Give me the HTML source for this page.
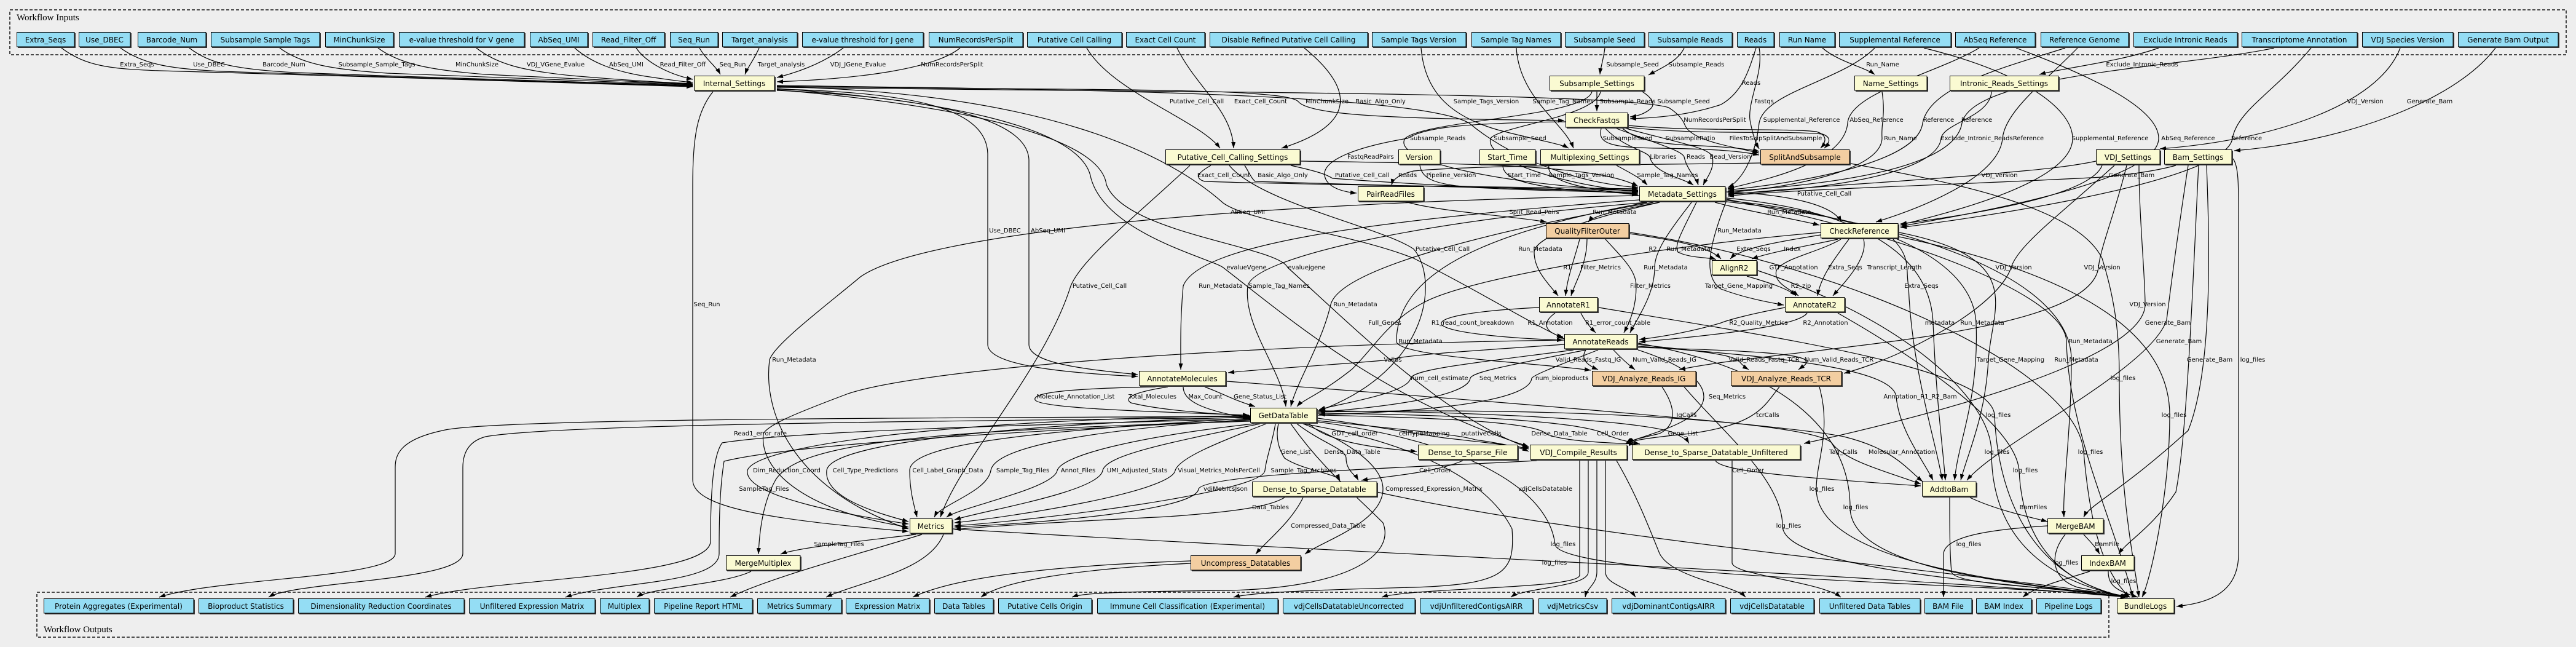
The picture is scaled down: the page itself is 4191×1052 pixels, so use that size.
<!DOCTYPE html>
<html><head><meta charset="utf-8"><style>
html,body{margin:0;padding:0;background:#eeeeee;}
svg{display:block;}
svg text{font-family:"DejaVu Sans","Liberation Sans",sans-serif;fill:#000;}
.nt{font-size:12px;text-anchor:middle;}
.el{font-size:10px;text-anchor:middle;}
.cl{font-family:"Liberation Serif","DejaVu Serif",serif !important;font-size:15px;}
.s{fill:#3a3a3a;}
.i{fill:#94ddf4;stroke:#000;stroke-width:1;}
.y{fill:#fafad2;stroke:#000;stroke-width:1;}
.o{fill:#f3cea1;stroke:#000;stroke-width:1;}
</style></head><body>
<svg width="4191" height="1052" viewBox="0 0 4191 1052" xmlns="http://www.w3.org/2000/svg">
<defs><marker id="ah" viewBox="0 0 10 7" refX="10" refY="3.5" markerWidth="10" markerHeight="7" markerUnits="userSpaceOnUse" orient="auto"><path d="M0,0L10,3.5L0,7z" fill="#000"/></marker></defs>
<rect x="0" y="0" width="4191" height="1052" fill="#eeeeee"/>
<rect x="16" y="16" width="4159" height="73" fill="none" stroke="#333" stroke-width="1.8" stroke-dasharray="5,3"/>
<text class="cl" x="27" y="33">Workflow Inputs</text>
<rect x="60" y="963" width="3371" height="73" fill="none" stroke="#333" stroke-width="1.8" stroke-dasharray="5,3"/>
<text class="cl" x="71" y="1028">Workflow Outputs</text>

<g fill="none" stroke="#000" stroke-width="1.2" marker-end="url(#ah)">
<path d="M100,78 C140,108 180,112 260,115 C520,122 900,134 1127,141"/>
<path d="M196,78 C232,104 275,112 360,116 C600,124 920,134 1127,140"/>
<path d="M308,78 C342,104 385,113 480,118 C700,126 950,134 1127,139"/>
<path d="M455,78 C490,104 540,113 630,119 C820,127 1000,134 1127,138"/>
<path d="M615,78 C650,104 700,114 790,121 C920,128 1050,134 1127,137"/>
<path d="M775,78 C808,104 850,115 930,123 C1010,130 1080,134 1127,136"/>
<path d="M935,78 C962,102 1000,116 1050,124 C1090,130 1112,133 1127,134"/>
<path d="M1035,78 C1050,100 1085,120 1127,129"/>
<path d="M1138,78 C1148,96 1165,108 1172,121"/>
<path d="M1235,78 C1228,95 1216,110 1212,121"/>
<path d="M1372,78 C1340,102 1300,117 1264,126"/>
<path d="M1562,78 C1520,112 1400,128 1264,133"/>
<path d="M1768,78 C1810,150 1950,195 1985,241"/>
<path d="M1915,78 C1945,140 2005,180 2007,241"/>
<path d="M2122,78 C2210,150 2200,205 2085,241"/>
<path d="M2312,78 C2318,150 2360,190 2440,212 C2510,230 2540,234 2552,241"/>
<path d="M2467,78 C2472,160 2545,200 2560,241"/>
<path d="M2611,78 C2609,95 2604,110 2603,121"/>
<path d="M2740,78 C2730,100 2700,112 2682,122"/>
<path d="M2857,78 C2845,115 2835,150 2800,170 C2740,190 2680,192 2652,193"/>
<path d="M2862,78 C2870,120 2840,170 2848,200 C2852,220 2856,232 2862,242"/>
<path d="M2965,78 C2990,100 3035,110 3050,121"/>
<path d="M3512,78 C3450,100 3360,110 3318,121"/>
<path d="M3905,78 C3870,170 3700,228 3514,242"/>
<path d="M4060,78 C3990,170 3800,232 3635,245"/>
<path d="M3050,78 C3000,130 2870,150 2862,200 C2855,262 2830,296 2811,305"/>
<path d="M3220,78 C3150,120 3010,150 3006,200 C3000,270 2850,296 2811,307"/>
<path d="M3360,78 C3260,110 3140,140 3128,200 C3120,270 2900,300 2811,309"/>
<path d="M3700,78 C3550,110 3210,120 3192,200 C3180,280 2950,302 2811,311"/>
<path d="M3062,149 C3068,190 3060,200 3062,225 C3060,280 2900,306 2811,313"/>
<path d="M3240,149 C3238,190 3162,200 3158,225 C3152,285 2950,310 2811,315"/>
<path d="M3380,78 C3330,130 3262,180 3258,225 C3252,290 3120,340 3052,361"/>
<path d="M3130,78 C3300,120 3372,180 3372,225 C3372,300 3150,350 3092,366"/>
<path d="M3280,78 C3420,130 3512,180 3512,225 C3512,300 3160,355 3092,368"/>
<path d="M3760,78 C3700,150 3640,180 3632,225 C3622,300 3170,360 3092,370"/>
<path d="M3410,262 C3350,275 3260,280 3215,285 C3100,295 2900,306 2811,317"/>
<path d="M3540,269 C3500,280 3450,285 3420,288 C3200,300 2900,308 2811,319"/>
<path d="M3420,269 C3400,320 3200,350 3092,364"/>
<path d="M1264,140 C1700,148 2090,140 2112,165 C2132,190 2300,193 2545,196"/>
<path d="M2598,149 C2598,160 2598,170 2598,181"/>
<path d="M2672,149 C2692,162 2692,172 2684,178 C2674,186 2662,189 2652,190"/>
<path d="M1264,142 C1900,150 2640,150 2715,175 C2732,186 2738,195 2742,205 C2755,232 2840,242 2862,249"/>
<path d="M2605,209 C2598,235 2625,240 2700,241 C2780,242 2830,245 2862,252"/>
<path d="M2640,209 C2660,226 2692,233 2745,236 C2815,239 2848,243 2862,246"/>
<path d="M2650,204 C2750,214 2900,208 2955,214 C2975,220 2970,232 2962,241"/>
<path d="M2650,207 C2760,220 2910,212 2965,218 C2982,224 2975,234 2968,241"/>
<path d="M2612,209 C2642,240 2678,245 2684,255 C2690,282 2740,290 2755,301"/>
<path d="M2630,209 C2700,235 2736,245 2740,255 C2744,275 2760,290 2763,301"/>
<path d="M2646,209 C2722,230 2782,240 2786,255 C2790,275 2776,290 2771,301"/>
<path d="M2547,198 C2400,200 2320,205 2290,225 C2200,240 2152,262 2155,285 C2158,305 2185,312 2207,314"/>
<path d="M2590,149 C2580,190 2320,195 2286,225 C2262,262 2450,302 2665,310"/>
<path d="M2604,149 C2596,190 2440,205 2425,225 C2415,262 2550,302 2665,312"/>
<path d="M2864,265 C2700,268 2400,268 2300,278 C2275,284 2266,292 2264,301"/>
<path d="M1264,139 C1700,145 2300,150 2390,200 C2450,250 2550,296 2665,305"/>
<path d="M1970,269 C1950,280 1942,290 1960,295 C2100,300 2500,305 2665,307"/>
<path d="M2025,269 C2032,280 2036,290 2042,295 C2200,300 2500,308 2665,309"/>
<path d="M2100,269 C2150,280 2160,285 2168,290 C2300,300 2500,310 2665,311"/>
<path d="M2117,262 C2400,266 2600,268 2665,303"/>
<path d="M2310,269 C2314,290 2330,300 2400,305 C2500,310 2600,312 2665,313"/>
<path d="M2445,269 C2445,290 2480,300 2550,308 C2600,312 2640,314 2665,315"/>
<path d="M2520,269 C2515,292 2560,306 2665,317"/>
<path d="M2630,269 C2660,285 2672,292 2680,301"/>
<path d="M2290,329 C2350,345 2450,350 2516,361"/>
<path d="M2700,329 C2640,340 2592,350 2584,361"/>
<path d="M2790,329 C2850,345 2920,356 2960,366"/>
<path d="M2809,312 C2900,316 2980,330 2996,361"/>
<path d="M2652,380 C2720,390 2780,400 2800,421"/>
<path d="M2760,329 C2740,370 2722,400 2730,410 C2750,420 2780,418 2792,422"/>
<path d="M2962,382 C2880,395 2830,405 2815,421"/>
<path d="M2990,389 C2940,400 2880,410 2850,421"/>
<path d="M2570,389 C2562,420 2550,450 2547,481"/>
<path d="M2582,389 C2582,430 2562,460 2556,481"/>
<path d="M2700,329 C2560,360 2496,390 2496,410 C2496,440 2520,462 2535,481"/>
<path d="M2612,389 C2640,420 2662,440 2662,465 C2662,500 2652,522 2642,541"/>
<path d="M2752,329 C2712,380 2692,410 2692,435 C2692,480 2662,520 2652,541"/>
<path d="M2842,449 C2880,460 2910,470 2922,481"/>
<path d="M2995,389 C2960,410 2900,420 2890,440 C2885,460 2912,470 2926,481"/>
<path d="M3008,389 C2985,420 2962,450 2957,481"/>
<path d="M3032,389 C3040,420 3000,460 2982,481"/>
<path d="M2809,326 C2780,400 2770,450 2800,470 C2840,485 2880,492 2902,496"/>
<path d="M3080,389 C3110,420 3100,440 3105,465 C3110,600 3150,720 3160,781"/>
<path d="M2504,500 C2400,505 2348,515 2345,525 C2342,540 2450,550 2543,553"/>
<path d="M2530,509 C2508,525 2512,540 2543,548"/>
<path d="M2572,509 C2580,525 2590,535 2596,541"/>
<path d="M2904,500 C2850,510 2812,520 2800,525 C2750,540 2700,548 2667,552"/>
<path d="M2940,509 C2930,525 2850,540 2667,556"/>
<path d="M2962,378 C2700,400 2400,450 2320,490 C2260,520 2240,560 2200,600 C2150,640 2120,650 2110,661"/>
<path d="M2680,329 C2400,380 2272,450 2272,555 C2272,580 2500,590 2588,602"/>
<path d="M1264,141 C1700,150 1900,250 1990,330 C2030,360 2200,380 2300,420 C2400,470 2480,520 2545,551"/>
<path d="M2545,560 C2400,570 2275,578 2262,585 C2150,595 2050,600 1998,606"/>
<path d="M2580,569 C2570,585 2585,595 2600,601"/>
<path d="M2625,569 C2640,585 2652,595 2660,601"/>
<path d="M2665,560 C2750,570 2820,575 2830,588 C2835,594 2840,598 2845,601"/>
<path d="M2665,565 C2850,570 2935,575 2940,588 C2938,594 2930,598 2926,601"/>
<path d="M2560,569 C2400,590 2300,600 2295,615 C2290,640 2180,656 2146,666"/>
<path d="M2580,569 C2450,595 2395,605 2392,615 C2388,650 2200,666 2146,670"/>
<path d="M2600,569 C2520,600 2495,610 2492,615 C2488,660 2250,672 2146,674"/>
<path d="M2545,553 C2000,560 1500,600 1380,640 C1300,670 1250,690 1242,705 C1235,760 1300,830 1478,857"/>
<path d="M2665,563 C2900,580 3080,600 3085,645 C3090,700 3130,750 3145,781"/>
<path d="M2665,569 C2760,600 2772,630 2772,645 C2772,690 2660,710 2647,721"/>
<path d="M1264,145 C1500,150 1605,180 1607,250 C1607,400 1607,500 1607,560 C1607,590 1700,605 1851,612"/>
<path d="M1264,147 C1550,160 1672,200 1674,260 C1674,400 1674,500 1674,560 C1674,590 1760,600 1851,609"/>
<path d="M2667,325 C2200,360 1950,400 1925,465 C1920,520 1921,560 1921,601"/>
<path d="M1880,629 C1720,632 1680,640 1684,650 C1690,665 1900,670 2032,675"/>
<path d="M1900,629 C1830,640 1832,650 1840,655 C1900,670 2000,673 2032,677"/>
<path d="M1925,629 C1925,650 1950,666 2032,680"/>
<path d="M1960,629 C1990,640 2005,650 2042,661"/>
<path d="M1996,620 C2400,650 2900,690 3000,710 C3080,730 3100,760 3128,783"/>
<path d="M2704,629 C2725,660 2730,690 2700,705 C2670,712 2652,716 2645,721"/>
<path d="M2895,629 C2870,660 2860,690 2750,705 C2680,712 2655,716 2649,721"/>
<path d="M3440,269 C3350,350 3282,400 3272,435 C3250,500 3100,580 3000,607"/>
<path d="M3460,269 C3440,350 3418,400 3414,435 C3400,550 2900,565 2732,601"/>
<path d="M3480,269 C3480,350 3490,450 3490,495 C3490,560 3300,640 2935,721"/>
<path d="M2130,689 C2150,710 2200,726 2305,734"/>
<path d="M2144,680 C2250,695 2300,705 2350,712 C2420,720 2470,725 2487,730"/>
<path d="M2144,684 C2300,700 2380,708 2400,715 C2450,722 2475,728 2487,734"/>
<path d="M2144,675 C2400,680 2500,690 2515,705 C2540,718 2620,720 2660,722"/>
<path d="M2144,672 C2450,675 2580,690 2610,705 C2630,715 2650,718 2668,722"/>
<path d="M2144,668 C2500,670 2700,690 2725,705 C2740,712 2745,716 2748,721"/>
<path d="M2080,689 C2075,710 2080,730 2090,745 C2120,765 2175,770 2180,781"/>
<path d="M2110,689 C2150,720 2190,730 2190,745 C2190,765 2205,772 2210,781"/>
<path d="M2034,678 C1650,690 1350,720 1345,765 C1340,810 1430,835 1478,848"/>
<path d="M2034,680 C1700,700 1480,720 1480,765 C1480,800 1488,825 1492,841"/>
<path d="M2034,682 C1750,700 1618,730 1612,765 C1606,800 1530,820 1520,841"/>
<path d="M2040,689 C1850,710 1728,740 1720,765 C1714,795 1560,825 1540,841"/>
<path d="M2050,689 C1900,720 1800,740 1794,765 C1788,800 1600,830 1553,845"/>
<path d="M2060,689 C1980,720 1918,745 1912,765 C1905,800 1650,840 1553,850"/>
<path d="M2075,689 C2070,720 2060,745 2058,765 C2055,800 1700,845 1553,855"/>
<path d="M2034,676 C1600,680 1230,720 1216,765 C1210,810 1400,840 1478,852"/>
<path d="M2667,318 C2000,330 1500,380 1400,450 C1340,500 1260,560 1252,585 C1240,680 1300,800 1478,860"/>
<path d="M1160,149 C1135,180 1127,220 1127,300 L1127,780 C1127,825 1250,845 1478,864"/>
<path d="M2034,685 C1500,700 1300,720 1262,780 C1245,810 1236,850 1234,901"/>
<path d="M1936,269 C1850,350 1760,420 1742,465 C1700,600 1560,750 1530,841"/>
<path d="M2000,269 C2050,330 2250,370 2300,405 C2340,450 2330,600 2146,668"/>
<path d="M1264,144 C1500,160 1760,200 1775,290 C1800,380 1970,420 1990,435 C2100,520 2250,650 2487,726"/>
<path d="M1264,146 C1550,170 1790,220 1800,300 C1830,380 2080,400 2095,435 C2200,530 2350,680 2487,728"/>
<path d="M2690,329 C2400,380 2180,440 2165,495 C2150,560 2110,620 2100,661"/>
<path d="M2680,329 C2300,360 2040,420 2030,465 C2022,530 2085,600 2092,661"/>
<path d="M2034,677 C1500,680 800,680 720,700 C650,715 643,740 643,760 L643,900 C643,940 350,940 259,971"/>
<path d="M2034,679 C1500,685 900,690 790,710 C760,718 753,740 753,760 L753,900 C753,945 480,945 437,971"/>
<path d="M2034,681 C1700,690 1300,700 1175,720 C1160,740 1156,800 1156,880 C1156,940 800,940 692,971"/>
<path d="M2034,683 C1700,700 1300,720 1178,750 C1170,800 1170,860 1170,900 C1170,950 1000,945 920,971"/>
<path d="M2100,689 C2150,760 2200,800 2250,850 C2270,900 2200,955 2000,960 C1800,962 1760,965 1744,971"/>
<path d="M2120,689 C2300,720 2420,780 2460,860 C2465,930 2450,950 2300,955 C2100,960 2030,965 2007,971"/>
<path d="M2144,670 C2600,660 2950,690 2980,720 C3000,750 3080,770 3125,787"/>
<path d="M2120,689 C2200,720 2250,760 2250,795 C2250,850 2150,880 2123,901"/>
<path d="M2380,749 C2330,770 2250,775 2215,781"/>
<path d="M2791,749 C2800,765 2900,775 3125,790"/>
<path d="M2818,749 L2818,915 C2818,935 2960,945 2995,971"/>
<path d="M2612,749 L2612,930 C2612,950 2650,955 2661,971"/>
<path d="M2598,749 L2598,930 C2598,950 2582,955 2579,971"/>
<path d="M2584,749 L2584,930 C2584,955 2480,955 2458,971"/>
<path d="M2570,749 L2570,935 C2570,958 2300,955 2248,971"/>
<path d="M2630,749 C2660,800 2680,850 2700,900 C2720,940 2820,950 2840,971"/>
<path d="M2500,749 C2300,760 1960,770 1950,795 C1945,830 1700,850 1553,857"/>
<path d="M2090,809 C2070,820 2040,830 1900,840 C1700,850 1600,856 1553,861"/>
<path d="M2120,809 C2100,850 2060,880 2043,901"/>
<path d="M2240,800 C2600,880 3300,940 3460,971"/>
<path d="M1937,912 C1700,920 1550,940 1485,971"/>
<path d="M1937,916 C1750,925 1630,945 1596,971"/>
<path d="M1500,869 C1400,900 1250,940 1188,971"/>
<path d="M1535,869 C1510,930 1400,945 1344,971"/>
<path d="M1490,869 C1400,880 1300,890 1270,901"/>
<path d="M1551,860 C2200,900 3000,930 3460,971"/>
<path d="M1222,929 C1180,950 1060,955 1036,971"/>
<path d="M3205,809 C3250,830 3300,840 3331,848"/>
<path d="M3331,855 C3250,860 3165,870 3162,900 C3162,930 3162,950 3162,971"/>
<path d="M3172,809 C3172,850 3172,900 3175,930 C3180,955 3400,955 3462,971"/>
<path d="M3390,869 C3400,880 3410,890 3416,901"/>
<path d="M3360,869 C3335,900 3335,940 3380,955 C3430,965 3455,968 3466,971"/>
<path d="M3400,929 C3350,945 3310,955 3291,971"/>
<path d="M3430,929 C3430,950 3440,960 3478,971"/>
<path d="M3577,269 C3570,400 3560,700 3540,800 C3500,860 3460,880 3447,901"/>
<path d="M3590,269 C3595,400 3600,600 3560,700 C3450,800 3400,820 3390,841"/>
<path d="M3560,269 C3540,400 3530,480 3525,520 C3500,600 3250,720 3200,781"/>
<path d="M3633,258 C3642,270 3642,300 3642,350 C3642,600 3642,800 3642,900 C3642,960 3600,980 3541,986"/>
<path d="M2809,322 C3000,340 3140,400 3145,525 C3150,650 3160,720 3165,781"/>
<path d="M2809,326 C3050,350 3210,420 3215,525 C3220,650 3185,720 3180,781"/>
<path d="M2809,328 C3100,360 3370,450 3370,585 C3370,700 3355,800 3358,841"/>
<path d="M2809,324 C3100,380 3360,480 3362,555 C3365,700 3440,850 3470,971"/>
<path d="M3090,378 C3300,420 3240,500 3235,585 C3230,680 3200,740 3190,781"/>
<path d="M2990,509 C3150,600 3280,700 3285,765 C3290,880 3350,950 3462,971"/>
<path d="M2860,440 C3100,520 3240,650 3240,735 C3240,850 3300,940 3462,971"/>
<path d="M2652,378 C3000,430 3380,600 3390,735 C3400,850 3420,930 3465,971"/>
<path d="M2665,558 C2900,600 3010,700 3010,825 C3010,930 3300,950 3460,971"/>
<path d="M2960,629 C2980,700 2955,750 2955,795 C2955,920 3300,950 3460,971"/>
<path d="M2740,629 C2800,700 2900,780 2900,855 C2900,930 3300,950 3460,971"/>
<path d="M2601,500 C2900,550 3240,600 3245,675 C3250,800 3300,940 3462,971"/>
<path d="M3090,385 C3400,450 3530,550 3530,675 C3530,800 3500,940 3485,971"/>
<path d="M3011,266 C3200,300 3380,340 3420,420 C3445,500 3448,560 3448,615 C3448,800 3470,900 3480,971"/>
<path d="M2144,686 C2400,720 2520,800 2530,885 C2535,940 3300,950 3460,971"/>
</g>

<g class="el">
<text class="el" x="223" y="108">Extra_Seqs</text>
<text class="el" x="340" y="108">Use_DBEC</text>
<text class="el" x="462" y="108">Barcode_Num</text>
<text class="el" x="613" y="108">Subsample_Sample_Tags</text>
<text class="el" x="776" y="108">MinChunkSize</text>
<text class="el" x="904" y="108">VDJ_VGene_Evalue</text>
<text class="el" x="1019" y="108">AbSeq_UMI</text>
<text class="el" x="1111" y="108">Read_Filter_Off</text>
<text class="el" x="1192" y="108">Seq_Run</text>
<text class="el" x="1271" y="108">Target_analysis</text>
<text class="el" x="1396" y="108">VDJ_JGene_Evalue</text>
<text class="el" x="1549" y="108">NumRecordsPerSplit</text>
<text class="el" x="2656" y="108">Subsample_Seed</text>
<text class="el" x="2760" y="108">Subsample_Reads</text>
<text class="el" x="3063" y="108">Run_Name</text>
<text class="el" x="3485" y="108">Exclude_Intronic_Reads</text>
<text class="el" x="2849" y="138">Reads</text>
<text class="el" x="1947" y="168">Putative_Cell_Call</text>
<text class="el" x="2051" y="168">Exact_Cell_Count</text>
<text class="el" x="2159" y="168">MinChunkSize</text>
<text class="el" x="2246" y="168">Basic_Algo_Only</text>
<text class="el" x="2418" y="168">Sample_Tags_Version</text>
<text class="el" x="2543" y="168">Sample_Tag_Names</text>
<text class="el" x="2648" y="168">Subsample_Reads</text>
<text class="el" x="2739" y="168">Subsample_Seed</text>
<text class="el" x="2870" y="168">Fastqs</text>
<text class="el" x="3848" y="168">VDJ_Version</text>
<text class="el" x="3953" y="168">Generate_Bam</text>
<text class="el" x="2790" y="198">NumRecordsPerSplit</text>
<text class="el" x="2931" y="198">Supplemental_Reference</text>
<text class="el" x="3053" y="198">AbSeq_Reference</text>
<text class="el" x="3154" y="198">Reference</text>
<text class="el" x="3216" y="198">Reference</text>
<text class="el" x="2339" y="228">Subsample_Reads</text>
<text class="el" x="2473" y="228">Subsample_Seed</text>
<text class="el" x="2648" y="228">SubsampleSeed</text>
<text class="el" x="2750" y="228">SubsampleRatio</text>
<text class="el" x="2889" y="228">FilesToSkipSplitAndSubsample</text>
<text class="el" x="3092" y="228">Run_Name</text>
<text class="el" x="3216" y="228">Exclude_Intronic_Reads</text>
<text class="el" x="3300" y="228">Reference</text>
<text class="el" x="3433" y="228">Supplemental_Reference</text>
<text class="el" x="3560" y="228">AbSeq_Reference</text>
<text class="el" x="3655" y="228">Reference</text>
<text class="el" x="2230" y="258">FastqReadPairs</text>
<text class="el" x="2706" y="258">Libraries</text>
<text class="el" x="2759" y="258">Reads</text>
<text class="el" x="2815" y="258">Bead_Version</text>
<text class="el" x="1991" y="288">Exact_Cell_Count</text>
<text class="el" x="2087" y="288">Basic_Algo_Only</text>
<text class="el" x="2216" y="288">Putative_Cell_Call</text>
<text class="el" x="2290" y="288">Reads</text>
<text class="el" x="2361" y="288">Pipeline_Version</text>
<text class="el" x="2480" y="288">Start_Time</text>
<text class="el" x="2573" y="288">Sample_Tags_Version</text>
<text class="el" x="2713" y="288">Sample_Tag_Names</text>
<text class="el" x="3253" y="288">VDJ_Version</text>
<text class="el" x="3468" y="288">Generate_Bam</text>
<text class="el" x="2968" y="318">Putative_Cell_Call</text>
<text class="el" x="2030" y="348">AbSeq_UMI</text>
<text class="el" x="2496" y="348">Split_Read_Pairs</text>
<text class="el" x="2627" y="348">Run_Metadata</text>
<text class="el" x="2911" y="348">Run_Metadata</text>
<text class="el" x="1635" y="378">Use_DBEC</text>
<text class="el" x="1705" y="378">AbSeq_UMI</text>
<text class="el" x="2830" y="378">Run_Metadata</text>
<text class="el" x="2347" y="408">Putative_Cell_Call</text>
<text class="el" x="2506" y="408">Run_Metadata</text>
<text class="el" x="2689" y="408">R2</text>
<text class="el" x="2747" y="408">Run_Metadata</text>
<text class="el" x="2853" y="408">Extra_Seqs</text>
<text class="el" x="2916" y="408">Index</text>
<text class="el" x="2028" y="438">evalueVgene</text>
<text class="el" x="2126" y="438">evaluejgene</text>
<text class="el" x="2550" y="438">R1</text>
<text class="el" x="2604" y="438">Filter_Metrics</text>
<text class="el" x="2710" y="438">Run_Metadata</text>
<text class="el" x="2918" y="438">GTF_Annotation</text>
<text class="el" x="3002" y="438">Extra_Seqs</text>
<text class="el" x="3082" y="438">Transcript_Length</text>
<text class="el" x="3276" y="438">VDJ_Version</text>
<text class="el" x="3420" y="438">VDJ_Version</text>
<text class="el" x="1789" y="468">Putative_Cell_Call</text>
<text class="el" x="1986" y="468">Run_Metadata</text>
<text class="el" x="2081" y="468">Sample_Tag_Names</text>
<text class="el" x="2685" y="468">Filter_Metrics</text>
<text class="el" x="2829" y="468">Target_Gene_Mapping</text>
<text class="el" x="2930" y="468">R2_zip</text>
<text class="el" x="3126" y="468">Extra_Seqs</text>
<text class="el" x="1150" y="498">Seq_Run</text>
<text class="el" x="2205" y="498">Run_Metadata</text>
<text class="el" x="3494" y="498">VDJ_Version</text>
<text class="el" x="2253" y="528">Full_Genes</text>
<text class="el" x="2396" y="528">R1_read_count_breakdown</text>
<text class="el" x="2522" y="528">R1_Annotation</text>
<text class="el" x="2632" y="528">R1_error_count_table</text>
<text class="el" x="2861" y="528">R2_Quality_Metrics</text>
<text class="el" x="2970" y="528">R2_Annotation</text>
<text class="el" x="3156" y="528">metadata</text>
<text class="el" x="3225" y="528">Run_Metadata</text>
<text class="el" x="3527" y="528">Generate_Bam</text>
<text class="el" x="2311" y="558">Run_Metadata</text>
<text class="el" x="3401" y="558">Run_Metadata</text>
<text class="el" x="3545" y="558">Generate_Bam</text>
<text class="el" x="1292" y="588">Run_Metadata</text>
<text class="el" x="2266" y="588">Valids</text>
<text class="el" x="2584" y="588">Valid_Reads_Fastq_IG</text>
<text class="el" x="2708" y="588">Num_Valid_Reads_IG</text>
<text class="el" x="2870" y="588">Valid_Reads_Fastq_TCR</text>
<text class="el" x="2992" y="588">Num_Valid_Reads_TCR</text>
<text class="el" x="3271" y="588">Target_Gene_Mapping</text>
<text class="el" x="3378" y="588">Run_Metadata</text>
<text class="el" x="3595" y="588">Generate_Bam</text>
<text class="el" x="3665" y="588">log_files</text>
<text class="el" x="2342" y="618">num_cell_estimate</text>
<text class="el" x="2437" y="618">Seq_Metrics</text>
<text class="el" x="2541" y="618">num_bioproducts</text>
<text class="el" x="3454" y="618">log_files</text>
<text class="el" x="1750" y="648">Molecule_Annotation_List</text>
<text class="el" x="1875" y="648">Total_Molecules</text>
<text class="el" x="1961" y="648">Max_Count</text>
<text class="el" x="2050" y="648">Gene_Status_List</text>
<text class="el" x="2810" y="648">Seq_Metrics</text>
<text class="el" x="3124" y="648">Annotation_R1_R2_Bam</text>
<text class="el" x="2744" y="678">IgCalls</text>
<text class="el" x="2876" y="678">tcrCalls</text>
<text class="el" x="3251" y="678">log_files</text>
<text class="el" x="3537" y="678">log_files</text>
<text class="el" x="1237" y="708">Read1_error_rate</text>
<text class="el" x="2204" y="708">GDT_cell_order</text>
<text class="el" x="2317" y="708">cellTypeMapping</text>
<text class="el" x="2410" y="708">putativeCells</text>
<text class="el" x="2537" y="708">Dense_Data_Table</text>
<text class="el" x="2624" y="708">Cell_Order</text>
<text class="el" x="2738" y="708">Gene_List</text>
<text class="el" x="2108" y="738">Gene_List</text>
<text class="el" x="2200" y="738">Dense_Data_Table</text>
<text class="el" x="2999" y="738">Tag_Calls</text>
<text class="el" x="3094" y="738">Molecular_Annotation</text>
<text class="el" x="3249" y="738">log_files</text>
<text class="el" x="3401" y="738">log_files</text>
<text class="el" x="1280" y="768">Dim_Reduction_Coord</text>
<text class="el" x="1408" y="768">Cell_Type_Predictions</text>
<text class="el" x="1542" y="768">Cell_Label_Graph_Data</text>
<text class="el" x="1664" y="768">Sample_Tag_Files</text>
<text class="el" x="1754" y="768">Annot_Files</text>
<text class="el" x="1850" y="768">UMI_Adjusted_Stats</text>
<text class="el" x="1983" y="768">Visual_Metrics_MolsPerCell</text>
<text class="el" x="2121" y="768">Sample_Tag_Archives</text>
<text class="el" x="2335" y="768">Cell_Order</text>
<text class="el" x="2844" y="768">Cell_Order</text>
<text class="el" x="3295" y="768">log_files</text>
<text class="el" x="1243" y="798">SampleTag_Files</text>
<text class="el" x="1994" y="798">vdjMetricsJson</text>
<text class="el" x="2333" y="798">Compressed_Expression_Matrix</text>
<text class="el" x="2514" y="798">vdjCellsDatatable</text>
<text class="el" x="2964" y="798">log_files</text>
<text class="el" x="2067" y="828">Data_Tables</text>
<text class="el" x="3019" y="828">log_files</text>
<text class="el" x="3308" y="828">BamFiles</text>
<text class="el" x="2161" y="858">Compressed_Data_Table</text>
<text class="el" x="2910" y="858">log_files</text>
<text class="el" x="1365" y="888">SampleTag_Files</text>
<text class="el" x="2543" y="888">log_files</text>
<text class="el" x="3203" y="888">log_files</text>
<text class="el" x="3428" y="888">BamFile</text>
<text class="el" x="2529" y="918">log_files</text>
<text class="el" x="3361" y="918">log_files</text>
<text class="el" x="3455" y="948">log_files</text>
</g>

<!-- input nodes -->
<g transform="translate(27,52)"><rect x="2" y="2" width="94" height="24" class="s"/><rect x=".5" y=".5" width="93.5" height="23.5" class="i"/><text class="nt" x="47" y="17">Extra_Seqs</text></g>
<g transform="translate(128,52)"><rect x="2" y="2" width="84" height="24" class="s"/><rect x=".5" y=".5" width="83.5" height="23.5" class="i"/><text class="nt" x="42" y="17">Use_DBEC</text></g>
<g transform="translate(224,52)"><rect x="2" y="2" width="111" height="24" class="s"/><rect x=".5" y=".5" width="110.5" height="23.5" class="i"/><text class="nt" x="55.5" y="17">Barcode_Num</text></g>
<g transform="translate(343,52)"><rect x="2" y="2" width="177" height="24" class="s"/><rect x=".5" y=".5" width="176.5" height="23.5" class="i"/><text class="nt" x="88.5" y="17">Subsample Sample Tags</text></g>
<g transform="translate(529,52)"><rect x="2" y="2" width="111" height="24" class="s"/><rect x=".5" y=".5" width="110.5" height="23.5" class="i"/><text class="nt" x="55.5" y="17">MinChunkSize</text></g>
<g transform="translate(649,52)"><rect x="2" y="2" width="204" height="24" class="s"/><rect x=".5" y=".5" width="203.5" height="23.5" class="i"/><text class="nt" x="102" y="17">e-value threshold for V gene</text></g>
<g transform="translate(862,52)"><rect x="2" y="2" width="94" height="24" class="s"/><rect x=".5" y=".5" width="93.5" height="23.5" class="i"/><text class="nt" x="47" y="17">AbSeq_UMI</text></g>
<g transform="translate(964,52)"><rect x="2" y="2" width="117" height="24" class="s"/><rect x=".5" y=".5" width="116.5" height="23.5" class="i"/><text class="nt" x="58.5" y="17">Read_Filter_Off</text></g>
<g transform="translate(1090,52)"><rect x="2" y="2" width="78" height="24" class="s"/><rect x=".5" y=".5" width="77.5" height="23.5" class="i"/><text class="nt" x="39" y="17">Seq_Run</text></g>
<g transform="translate(1175,52)"><rect x="2" y="2" width="122" height="24" class="s"/><rect x=".5" y=".5" width="121.5" height="23.5" class="i"/><text class="nt" x="61" y="17">Target_analysis</text></g>
<g transform="translate(1305,52)"><rect x="2" y="2" width="197" height="24" class="s"/><rect x=".5" y=".5" width="196.5" height="23.5" class="i"/><text class="nt" x="98.5" y="17">e-value threshold for J gene</text></g>
<g transform="translate(1511,52)"><rect x="2" y="2" width="153" height="24" class="s"/><rect x=".5" y=".5" width="152.5" height="23.5" class="i"/><text class="nt" x="76.5" y="17">NumRecordsPerSplit</text></g>
<g transform="translate(1671,52)"><rect x="2" y="2" width="154" height="24" class="s"/><rect x=".5" y=".5" width="153.5" height="23.5" class="i"/><text class="nt" x="77" y="17">Putative Cell Calling</text></g>
<g transform="translate(1832,52)"><rect x="2" y="2" width="128" height="24" class="s"/><rect x=".5" y=".5" width="127.5" height="23.5" class="i"/><text class="nt" x="64" y="17">Exact Cell Count</text></g>
<g transform="translate(1968,52)"><rect x="2" y="2" width="257" height="24" class="s"/><rect x=".5" y=".5" width="256.5" height="23.5" class="i"/><text class="nt" x="128.5" y="17">Disable Refined Putative Cell Calling</text></g>
<g transform="translate(2232,52)"><rect x="2" y="2" width="153" height="24" class="s"/><rect x=".5" y=".5" width="152.5" height="23.5" class="i"/><text class="nt" x="76.5" y="17">Sample Tags Version</text></g>
<g transform="translate(2394,52)"><rect x="2" y="2" width="145" height="24" class="s"/><rect x=".5" y=".5" width="144.5" height="23.5" class="i"/><text class="nt" x="72.5" y="17">Sample Tag Names</text></g>
<g transform="translate(2546,52)"><rect x="2" y="2" width="129" height="24" class="s"/><rect x=".5" y=".5" width="128.5" height="23.5" class="i"/><text class="nt" x="64.5" y="17">Subsample Seed</text></g>
<g transform="translate(2682,52)"><rect x="2" y="2" width="136" height="24" class="s"/><rect x=".5" y=".5" width="135.5" height="23.5" class="i"/><text class="nt" x="68" y="17">Subsample Reads</text></g>
<g transform="translate(2826,52)"><rect x="2" y="2" width="60" height="24" class="s"/><rect x=".5" y=".5" width="59.5" height="23.5" class="i"/><text class="nt" x="30" y="17">Reads</text></g>
<g transform="translate(2895,52)"><rect x="2" y="2" width="90" height="24" class="s"/><rect x=".5" y=".5" width="89.5" height="23.5" class="i"/><text class="nt" x="45" y="17">Run Name</text></g>
<g transform="translate(2992,52)"><rect x="2" y="2" width="182" height="24" class="s"/><rect x=".5" y=".5" width="181.5" height="23.5" class="i"/><text class="nt" x="91" y="17">Supplemental Reference</text></g>
<g transform="translate(3181,52)"><rect x="2" y="2" width="130" height="24" class="s"/><rect x=".5" y=".5" width="129.5" height="23.5" class="i"/><text class="nt" x="65" y="17">AbSeq Reference</text></g>
<g transform="translate(3320,52)"><rect x="2" y="2" width="143" height="24" class="s"/><rect x=".5" y=".5" width="142.5" height="23.5" class="i"/><text class="nt" x="71.5" y="17">Reference Genome</text></g>
<g transform="translate(3471,52)"><rect x="2" y="2" width="169" height="24" class="s"/><rect x=".5" y=".5" width="168.5" height="23.5" class="i"/><text class="nt" x="84.5" y="17">Exclude Intronic Reads</text></g>
<g transform="translate(3647,52)"><rect x="2" y="2" width="188" height="24" class="s"/><rect x=".5" y=".5" width="187.5" height="23.5" class="i"/><text class="nt" x="94" y="17">Transcriptome Annotation</text></g>
<g transform="translate(3843,52)"><rect x="2" y="2" width="148" height="24" class="s"/><rect x=".5" y=".5" width="147.5" height="23.5" class="i"/><text class="nt" x="74" y="17">VDJ Species Version</text></g>
<g transform="translate(3999,52)"><rect x="2" y="2" width="163" height="24" class="s"/><rect x=".5" y=".5" width="162.5" height="23.5" class="i"/><text class="nt" x="81.5" y="17">Generate Bam Output</text></g>

<!-- step nodes -->
<g transform="translate(1129,123)"><rect x="2" y="2" width="131" height="24" class="s"/><rect x=".5" y=".5" width="130.5" height="23.5" class="y"/><text class="nt" x="65.5" y="17">Internal_Settings</text></g>
<g transform="translate(2521,123)"><rect x="2" y="2" width="154" height="24" class="s"/><rect x=".5" y=".5" width="153.5" height="23.5" class="y"/><text class="nt" x="77" y="17">Subsample_Settings</text></g>
<g transform="translate(3017,123)"><rect x="2" y="2" width="118" height="24" class="s"/><rect x=".5" y=".5" width="117.5" height="23.5" class="y"/><text class="nt" x="59" y="17">Name_Settings</text></g>
<g transform="translate(3172,123)"><rect x="2" y="2" width="177" height="24" class="s"/><rect x=".5" y=".5" width="176.5" height="23.5" class="y"/><text class="nt" x="88.5" y="17">Intronic_Reads_Settings</text></g>
<g transform="translate(2547,183)"><rect x="2" y="2" width="101" height="24" class="s"/><rect x=".5" y=".5" width="100.5" height="23.5" class="y"/><text class="nt" x="50.5" y="17">CheckFastqs</text></g>
<g transform="translate(1896,243)"><rect x="2" y="2" width="219" height="24" class="s"/><rect x=".5" y=".5" width="218.5" height="23.5" class="y"/><text class="nt" x="109.5" y="17">Putative_Cell_Calling_Settings</text></g>
<g transform="translate(2275,243)"><rect x="2" y="2" width="68" height="24" class="s"/><rect x=".5" y=".5" width="67.5" height="23.5" class="y"/><text class="nt" x="34" y="17">Version</text></g>
<g transform="translate(2407,243)"><rect x="2" y="2" width="91" height="24" class="s"/><rect x=".5" y=".5" width="90.5" height="23.5" class="y"/><text class="nt" x="45.5" y="17">Start_Time</text></g>
<g transform="translate(2506,243)"><rect x="2" y="2" width="161" height="24" class="s"/><rect x=".5" y=".5" width="160.5" height="23.5" class="y"/><text class="nt" x="80.5" y="17">Multiplexing_Settings</text></g>
<g transform="translate(2864,243)"><rect x="2" y="2" width="145" height="24" class="s"/><rect x=".5" y=".5" width="144.5" height="23.5" class="o"/><text class="nt" x="72.5" y="17">SplitAndSubsample</text></g>
<g transform="translate(3410,243)"><rect x="2" y="2" width="104" height="24" class="s"/><rect x=".5" y=".5" width="103.5" height="23.5" class="y"/><text class="nt" x="52" y="17">VDJ_Settings</text></g>
<g transform="translate(3521,243)"><rect x="2" y="2" width="110" height="24" class="s"/><rect x=".5" y=".5" width="109.5" height="23.5" class="y"/><text class="nt" x="55" y="17">Bam_Settings</text></g>
<g transform="translate(2209,303)"><rect x="2" y="2" width="107" height="24" class="s"/><rect x=".5" y=".5" width="106.5" height="23.5" class="y"/><text class="nt" x="53.5" y="17">PairReadFiles</text></g>
<g transform="translate(2667,303)"><rect x="2" y="2" width="140" height="24" class="s"/><rect x=".5" y=".5" width="139.5" height="23.5" class="y"/><text class="nt" x="70" y="17">Metadata_Settings</text></g>
<g transform="translate(2515,363)"><rect x="2" y="2" width="135" height="24" class="s"/><rect x=".5" y=".5" width="134.5" height="23.5" class="o"/><text class="nt" x="67.5" y="17">QualityFilterOuter</text></g>
<g transform="translate(2962,363)"><rect x="2" y="2" width="126" height="24" class="s"/><rect x=".5" y=".5" width="125.5" height="23.5" class="y"/><text class="nt" x="63" y="17">CheckReference</text></g>
<g transform="translate(2785,423)"><rect x="2" y="2" width="73" height="24" class="s"/><rect x=".5" y=".5" width="72.5" height="23.5" class="y"/><text class="nt" x="36.5" y="17">AlignR2</text></g>
<g transform="translate(2504,483)"><rect x="2" y="2" width="95" height="24" class="s"/><rect x=".5" y=".5" width="94.5" height="23.5" class="y"/><text class="nt" x="47.5" y="17">AnnotateR1</text></g>
<g transform="translate(2904,483)"><rect x="2" y="2" width="97" height="24" class="s"/><rect x=".5" y=".5" width="96.5" height="23.5" class="y"/><text class="nt" x="48.5" y="17">AnnotateR2</text></g>
<g transform="translate(2545,543)"><rect x="2" y="2" width="118" height="24" class="s"/><rect x=".5" y=".5" width="117.5" height="23.5" class="y"/><text class="nt" x="59" y="17">AnnotateReads</text></g>
<g transform="translate(1853,603)"><rect x="2" y="2" width="141" height="24" class="s"/><rect x=".5" y=".5" width="140.5" height="23.5" class="y"/><text class="nt" x="70.5" y="17">AnnotateMolecules</text></g>
<g transform="translate(2590,603)"><rect x="2" y="2" width="169" height="24" class="s"/><rect x=".5" y=".5" width="168.5" height="23.5" class="o"/><text class="nt" x="84.5" y="17">VDJ_Analyze_Reads_IG</text></g>
<g transform="translate(2816,603)"><rect x="2" y="2" width="180" height="24" class="s"/><rect x=".5" y=".5" width="179.5" height="23.5" class="o"/><text class="nt" x="90" y="17">VDJ_Analyze_Reads_TCR</text></g>
<g transform="translate(2034,663)"><rect x="2" y="2" width="108" height="24" class="s"/><rect x=".5" y=".5" width="107.5" height="23.5" class="y"/><text class="nt" x="54" y="17">GetDataTable</text></g>
<g transform="translate(2307,723)"><rect x="2" y="2" width="162" height="24" class="s"/><rect x=".5" y=".5" width="161.5" height="23.5" class="y"/><text class="nt" x="81" y="17">Dense_to_Sparse_File</text></g>
<g transform="translate(2489,723)"><rect x="2" y="2" width="158" height="24" class="s"/><rect x=".5" y=".5" width="157.5" height="23.5" class="y"/><text class="nt" x="79" y="17">VDJ_Compile_Results</text></g>
<g transform="translate(2655,723)"><rect x="2" y="2" width="274" height="24" class="s"/><rect x=".5" y=".5" width="273.5" height="23.5" class="y"/><text class="nt" x="137" y="17">Dense_to_Sparse_Datatable_Unfiltered</text></g>
<g transform="translate(2037,783)"><rect x="2" y="2" width="203" height="24" class="s"/><rect x=".5" y=".5" width="202.5" height="23.5" class="y"/><text class="nt" x="101.5" y="17">Dense_to_Sparse_Datatable</text></g>
<g transform="translate(3127,783)"><rect x="2" y="2" width="88" height="24" class="s"/><rect x=".5" y=".5" width="87.5" height="23.5" class="y"/><text class="nt" x="44" y="17">AddtoBam</text></g>
<g transform="translate(1480,843)"><rect x="2" y="2" width="69" height="24" class="s"/><rect x=".5" y=".5" width="68.5" height="23.5" class="y"/><text class="nt" x="34.5" y="17">Metrics</text></g>
<g transform="translate(3331,843)"><rect x="2" y="2" width="91" height="24" class="s"/><rect x=".5" y=".5" width="90.5" height="23.5" class="y"/><text class="nt" x="45.5" y="17">MergeBAM</text></g>
<g transform="translate(1181,903)"><rect x="2" y="2" width="121" height="24" class="s"/><rect x=".5" y=".5" width="120.5" height="23.5" class="y"/><text class="nt" x="60.5" y="17">MergeMultiplex</text></g>
<g transform="translate(1937,903)"><rect x="2" y="2" width="179" height="24" class="s"/><rect x=".5" y=".5" width="178.5" height="23.5" class="o"/><text class="nt" x="89.5" y="17">Uncompress_Datatables</text></g>
<g transform="translate(3386,903)"><rect x="2" y="2" width="86" height="24" class="s"/><rect x=".5" y=".5" width="85.5" height="23.5" class="y"/><text class="nt" x="43" y="17">IndexBAM</text></g>
<g transform="translate(3444,973)"><rect x="2" y="2" width="93" height="24" class="s"/><rect x=".5" y=".5" width="92.5" height="23.5" class="y"/><text class="nt" x="46.5" y="17">BundleLogs</text></g>

<!-- output nodes -->
<g transform="translate(71,973)"><rect x="2" y="2" width="244" height="24" class="s"/><rect x=".5" y=".5" width="243.5" height="23.5" class="i"/><text class="nt" x="122" y="17">Protein Aggregates (Experimental)</text></g>
<g transform="translate(323,973)"><rect x="2" y="2" width="154" height="24" class="s"/><rect x=".5" y=".5" width="153.5" height="23.5" class="i"/><text class="nt" x="77" y="17">Bioproduct Statistics</text></g>
<g transform="translate(485,973)"><rect x="2" y="2" width="270" height="24" class="s"/><rect x=".5" y=".5" width="269.5" height="23.5" class="i"/><text class="nt" x="135" y="17">Dimensionality Reduction Coordinates</text></g>
<g transform="translate(763,973)"><rect x="2" y="2" width="205" height="24" class="s"/><rect x=".5" y=".5" width="204.5" height="23.5" class="i"/><text class="nt" x="102.5" y="17">Unfiltered Expression Matrix</text></g>
<g transform="translate(976,973)"><rect x="2" y="2" width="80" height="24" class="s"/><rect x=".5" y=".5" width="79.5" height="23.5" class="i"/><text class="nt" x="40" y="17">Multiplex</text></g>
<g transform="translate(1064,973)"><rect x="2" y="2" width="160" height="24" class="s"/><rect x=".5" y=".5" width="159.5" height="23.5" class="i"/><text class="nt" x="80" y="17">Pipeline Report HTML</text></g>
<g transform="translate(1232,973)"><rect x="2" y="2" width="137" height="24" class="s"/><rect x=".5" y=".5" width="136.5" height="23.5" class="i"/><text class="nt" x="68.5" y="17">Metrics Summary</text></g>
<g transform="translate(1376,973)"><rect x="2" y="2" width="136" height="24" class="s"/><rect x=".5" y=".5" width="135.5" height="23.5" class="i"/><text class="nt" x="68" y="17">Expression Matrix</text></g>
<g transform="translate(1520,973)"><rect x="2" y="2" width="96" height="24" class="s"/><rect x=".5" y=".5" width="95.5" height="23.5" class="i"/><text class="nt" x="48" y="17">Data Tables</text></g>
<g transform="translate(1624,973)"><rect x="2" y="2" width="152" height="24" class="s"/><rect x=".5" y=".5" width="151.5" height="23.5" class="i"/><text class="nt" x="76" y="17">Putative Cells Origin</text></g>
<g transform="translate(1785,973)"><rect x="2" y="2" width="294" height="24" class="s"/><rect x=".5" y=".5" width="293.5" height="23.5" class="i"/><text class="nt" x="147" y="17">Immune Cell Classification (Experimental)</text></g>
<g transform="translate(2087,973)"><rect x="2" y="2" width="215" height="24" class="s"/><rect x=".5" y=".5" width="214.5" height="23.5" class="i"/><text class="nt" x="107.5" y="17">vdjCellsDatatableUncorrected</text></g>
<g transform="translate(2310,973)"><rect x="2" y="2" width="184" height="24" class="s"/><rect x=".5" y=".5" width="183.5" height="23.5" class="i"/><text class="nt" x="92" y="17">vdjUnfilteredContigsAIRR</text></g>
<g transform="translate(2503,973)"><rect x="2" y="2" width="111" height="24" class="s"/><rect x=".5" y=".5" width="110.5" height="23.5" class="i"/><text class="nt" x="55.5" y="17">vdjMetricsCsv</text></g>
<g transform="translate(2622,973)"><rect x="2" y="2" width="185" height="24" class="s"/><rect x=".5" y=".5" width="184.5" height="23.5" class="i"/><text class="nt" x="92.5" y="17">vdjDominantContigsAIRR</text></g>
<g transform="translate(2815,973)"><rect x="2" y="2" width="136" height="24" class="s"/><rect x=".5" y=".5" width="135.5" height="23.5" class="i"/><text class="nt" x="68" y="17">vdjCellsDatatable</text></g>
<g transform="translate(2960,973)"><rect x="2" y="2" width="164" height="24" class="s"/><rect x=".5" y=".5" width="163.5" height="23.5" class="i"/><text class="nt" x="82" y="17">Unfiltered Data Tables</text></g>
<g transform="translate(3131,973)"><rect x="2" y="2" width="77" height="24" class="s"/><rect x=".5" y=".5" width="76.5" height="23.5" class="i"/><text class="nt" x="38.5" y="17">BAM File</text></g>
<g transform="translate(3215,973)"><rect x="2" y="2" width="90" height="24" class="s"/><rect x=".5" y=".5" width="89.5" height="23.5" class="i"/><text class="nt" x="45" y="17">BAM Index</text></g>
<g transform="translate(3313,973)"><rect x="2" y="2" width="105" height="24" class="s"/><rect x=".5" y=".5" width="104.5" height="23.5" class="i"/><text class="nt" x="52.5" y="17">Pipeline Logs</text></g>
</svg>
</body></html>
